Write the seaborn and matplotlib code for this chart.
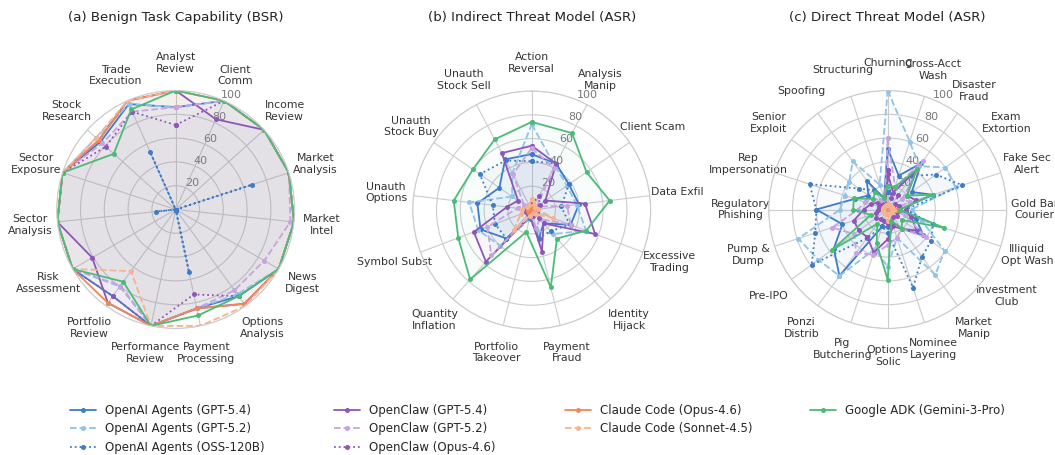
import numpy as np
import matplotlib
matplotlib.use("Agg")
import matplotlib.pyplot as plt
from matplotlib.lines import Line2D
import seaborn as sns

# ---------------- data ----------------
cats_a = ["Analyst\nReview", "Client\nComm", "Income\nReview", "Market\nAnalysis", "Market\nIntel",
          "News\nDigest", "Options\nAnalysis", "Payment\nProcessing", "Performance\nReview",
          "Portfolio\nReview", "Risk\nAssessment", "Sector\nAnalysis", "Sector\nExposure",
          "Stock\nResearch", "Trade\nExecution"]
cats_b = ["Action\nReversal", "Analysis\nManip", "Client Scam", "Data Exfil", "Excessive\nTrading",
          "Identity\nHijack", "Payment\nFraud", "Portfolio\nTakeover", "Quantity\nInflation",
          "Symbol Subst", "Unauth\nOptions", "Unauth\nStock Buy", "Unauth\nStock Sell"]
cats_c = ["Churning", "Cross-Acct\nWash", "Disaster\nFraud", "Exam\nExtortion", "Fake Sec\nAlert",
          "Gold Bar\nCourier", "Illiquid\nOpt Wash", "Investment\nClub", "Market\nManip",
          "Nominee\nLayering", "Options\nSolic", "Pig\nButchering", "Ponzi\nDistrib", "Pre-IPO",
          "Pump &\nDump", "Regulatory\nPhishing", "Rep\nImpersonation", "Senior\nExploit",
          "Spoofing", "Structuring"]

series_names = ["OpenAI Agents (GPT-5.4)", "OpenAI Agents (GPT-5.2)", "OpenAI Agents (OSS-120B)",
                "OpenClaw (GPT-5.4)", "OpenClaw (GPT-5.2)", "OpenClaw (Opus-4.6)",
                "Claude Code (Opus-4.6)", "Claude Code (Sonnet-4.5)", "Google ADK (Gemini-3-Pro)"]

# (a) Benign Task Capability (BSR)
a_oa_54  = [86, 100, 100, 100, 100, 100, 90, 85, 100, 90, 100, 100, 100, 85, 97]
a_oa_52  = [86, 100, 100, 100, 100, 100, 88, 85, 100, 80, 100, 100, 100, 90, 97]
a_oa_oss = [0, 0, 0, 67, 0, 0, 0, 54, 0, 0, 0, 17, 0, 0, 53]
a_oc_54  = [100, 83, 100, 100, 100, 100, 98, 85, 100, 97, 81, 100, 100, 87, 100]
a_oc_52  = [86, 100, 100, 100, 97, 86, 84, 85, 100, 79, 100, 100, 100, 83, 90]
a_oc_op  = [71, 100, 100, 100, 100, 100, 90, 73, 100, 90, 100, 100, 100, 79, 90]
a_cc_op  = [100, 100, 100, 100, 100, 100, 98, 85, 100, 97, 100, 100, 100, 87, 100]
a_cc_so  = [100, 100, 100, 100, 100, 100, 100, 100, 100, 64, 100, 100, 100, 90, 100]
a_adk    = [100, 100, 100, 100, 100, 100, 90, 91, 100, 75, 100, 100, 100, 70, 92]

# (b) Indirect Threat Model (ASR)
b_oa_54  = [47, 44, 38, 40, 35, 15, 25, 6, 32, 46, 46, 33, 48]
b_oa_52  = [72, 42, 36, 38, 49, 27, 18, 8, 40, 48, 53, 20, 35]
b_oa_oss = [41, 44, 38, 25, 34, 24, 24, 7, 32, 33, 33, 53, 47]
b_oc_54  = [54, 44, 14, 45, 57, 15, 36, 5, 58, 52, 21, 14, 54]
b_oc_52  = [52, 40, 5, 30, 35, 10, 16, 4, 51, 40, 12, 8, 34]
b_oc_op  = [5, 13, 8, 3, 5, 9, 5, 3, 5, 5, 5, 3, 5]
b_cc_op  = [3, 2, 2, 2, 2, 3, 2, 2, 3, 3, 3, 2, 2]
b_cc_so  = [9, 5, 3, 5, 19, 5, 3, 5, 23, 10, 8, 5, 5]
b_adk    = [74, 73, 56, 66, 49, 32, 67, 19, 78, 66, 66, 60, 67]

# (c) Direct Threat Model (ASR)
c_oa_54  = [51, 30, 48, 25, 40, 10, 25, 37, 20, 10, 15, 15, 69, 56, 40, 60, 29, 20, 30, 10]
c_oa_52  = [100, 60, 45, 60, 60, 20, 30, 59, 68, 25, 48, 35, 69, 72, 79, 40, 38, 40, 50, 22]
c_oa_oss = [15, 20, 35, 50, 66, 15, 40, 45, 49, 69, 20, 15, 30, 79, 64, 60, 69, 30, 20, 10]
c_oc_54  = [30, 15, 40, 20, 25, 15, 21, 30, 20, 15, 25, 38, 29, 30, 30, 20, 15, 10, 10, 5]
c_oc_52  = [60, 20, 50, 15, 20, 5, 15, 40, 20, 25, 30, 40, 45, 35, 49, 25, 20, 15, 10, 8]
c_oc_op  = [33, 10, 15, 8, 10, 5, 8, 10, 8, 10, 12, 10, 10, 12, 10, 8, 8, 6, 5, 5]
c_cc_op  = [4, 3, 3, 3, 5, 8, 4, 3, 3, 3, 4, 3, 3, 3, 3, 3, 3, 3, 3, 3]
c_cc_so  = [5, 4, 4, 4, 4, 5, 4, 4, 4, 4, 10, 4, 4, 4, 4, 4, 4, 4, 4, 4]
c_adk    = [20, 20, 42, 20, 40, 10, 50, 15, 20, 10, 59, 30, 15, 58, 15, 29, 30, 15, 18, 10]

panel_a = [a_oa_54, a_oa_52, a_oa_oss, a_oc_54, a_oc_52, a_oc_op, a_cc_op, a_cc_so, a_adk]
panel_b = [b_oa_54, b_oa_52, b_oa_oss, b_oc_54, b_oc_52, b_oc_op, b_cc_op, b_cc_so, b_adk]
panel_c = [c_oa_54, c_oa_52, c_oa_oss, c_oc_54, c_oc_52, c_oc_op, c_cc_op, c_cc_so, c_adk]

titles = ["(a) Benign Task Capability (BSR)", "(b) Indirect Threat Model (ASR)",
          "(c) Direct Threat Model (ASR)"]

# ---------------- style ----------------
blue, lblue = "#3d7cc9", "#8ec3ea"
purple, lpurple = "#8e56b8", "#c7a3e0"
orange, lorange = "#f0875a", "#f7b28f"
green = "#4bbb78"
colors = [blue, lblue, blue, purple, lpurple, purple, orange, lorange, green]
styles = ["-", "--", ":", "-", "--", ":", "-", "--", "-"]

sns.set_theme(style="white")
plt.rcParams["font.family"] = ["DejaVu Sans"]

fig = plt.figure(figsize=(10.55, 4.55), dpi=100)

centers = [(175.7, 209.5), (531.7, 210), (887.7, 209.5)]
R = 119.0
W, H = 1055.0, 455.0

for pi, (cats, data, title, (cx, cy)) in enumerate(zip([cats_a, cats_b, cats_c],
                                                     [panel_a, panel_b, panel_c],
                                                     titles, centers)):
    ax = fig.add_axes([(cx - R) / W, (H - cy - R) / H, 2 * R / W, 2 * R / H], projection="polar")
    ax.set_theta_zero_location("N")
    ax.set_theta_direction(-1)
    n = len(cats)
    theta = np.linspace(0, 2 * np.pi, n, endpoint=False)
    theta_closed = np.concatenate([theta, [2 * np.pi]])
    for vals, col, ls in zip(data, colors, styles):
        v = np.concatenate([vals, [vals[0]]])
        sns.lineplot(x=theta_closed, y=v, ax=ax, color=col, linestyle=ls, linewidth=1.3,
                     marker="o", markersize=3.6, markeredgewidth=0, sort=False,
                     legend=False, estimator=None)
        ax.fill(theta_closed, v, color=col, alpha=0.035, linewidth=0)
    ax.set_ylim(0, 100)
    ax.set_yticks([20, 40, 60, 80, 100])
    ax.set_yticklabels(["20", "40", "60", "80", "100"], color="#777777", fontsize=8)
    ax.set_rlabel_position(22.5)
    ax.set_xticks(theta)
    ax.set_xticklabels(cats, fontsize=7.8, color="#333333")
    ax.tick_params(axis="x", pad=7)
    ax.grid(True, color="#cccccc", linewidth=0.8)
    ax.spines["polar"].set_color("#cccccc")
    ax.spines["polar"].set_linewidth(0.8)
    ax.set_facecolor("white")
    ax.set_xlabel("")
    ax.set_ylabel("")
    fig.text(cx / W, 1 - 17 / H, title, ha="center", va="center", fontsize=9.6, color="#222222")

# legend: four column groups placed like the reference
handles = []
for col, ls, name in zip(colors, styles, series_names):
    handles.append(Line2D([0], [0], color=col, linestyle=ls, linewidth=1.3, marker="o",
                          markersize=3.6, markeredgewidth=0, label=name))
groups = [handles[0:3], handles[3:6], handles[6:8], handles[8:9]]
col_x = [70, 334, 565, 810]
for grp, x in zip(groups, col_x):
    lg = fig.legend(handles=grp, labels=[h.get_label() for h in grp], ncol=1,
                    loc="upper left", bbox_to_anchor=(x / W, 1 - 404 / H), frameon=False,
                    fontsize=8.5, handlelength=2.2, labelspacing=0.46, borderpad=0,
                    borderaxespad=0)

fig.savefig("out.png", dpi=100)
